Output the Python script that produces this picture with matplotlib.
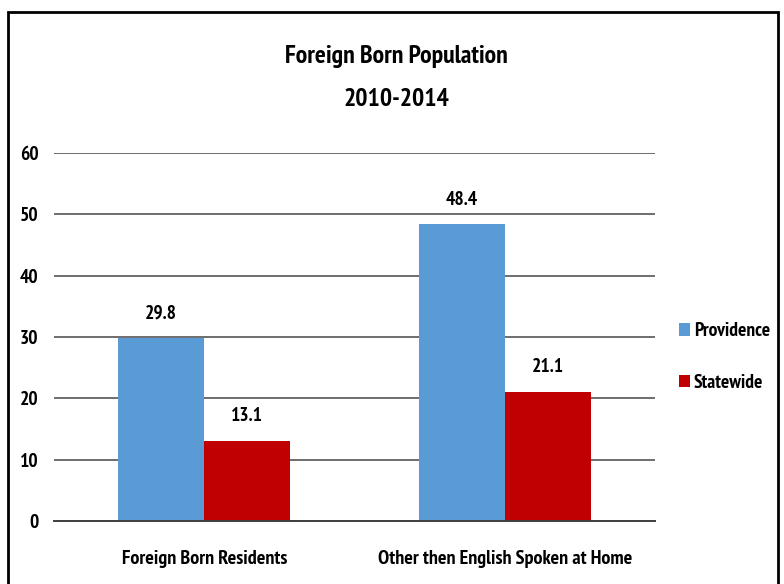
import matplotlib
matplotlib.use("Agg")
import matplotlib.pyplot as plt
from matplotlib.patches import Rectangle
import numpy as np

categories = ["Foreign Born Residents", "Other then English Spoken at Home"]
series_names = ["Providence", "Statewide"]
providence = [29.8, 48.4]
statewide = [13.1, 21.1]
yticks = [0, 10, 20, 30, 40, 50, 60]
title_lines = ["Foreign Born Population", "2010-2014"]

colors = ["#5B9BD5", "#C00000"]
plt.rcParams['font.family'] = ['PT Sans Narrow', 'DejaVu Sans']
plt.rcParams['font.weight'] = 'bold'

fig = plt.figure(figsize=(7.84, 5.84), dpi=100)
W, H = 784, 584
ax = fig.add_axes([54 / W, 1 - 521 / H, 601 / W, (521 - 153) / H])

x = np.arange(len(categories))
w = 0.286
b1 = ax.bar(x - w / 2, providence, w, color=colors[0], label=series_names[0], zorder=3)
b2 = ax.bar(x + w / 2, statewide, w, color=colors[1], label=series_names[1], zorder=3)
for bars, vals in ((b1, providence), (b2, statewide)):
    for r, v in zip(bars, vals):
        ax.annotate(f"{v:.1f}", (r.get_x() + r.get_width() / 2, v), xytext=(0, 11),
                    textcoords="offset points", ha="center", va="bottom",
                    fontsize=14, fontweight="bold")

ax.set_xlim(-0.5, 1.5)
ax.set_ylim(0, 60)
ax.set_yticks(yticks)
ax.set_yticklabels([str(t) for t in yticks], fontsize=14, fontweight="bold")
ax.set_xticks(x)
ax.set_xticklabels(categories, fontsize=14.5, fontweight="bold")
ax.tick_params(axis="both", length=0)
ax.tick_params(axis="y", pad=11)
ax.tick_params(axis="x", pad=21)
ax.yaxis.grid(True, color="#6E6E6E", linewidth=1.4, zorder=0)
for s in ["top", "right", "left"]:
    ax.spines[s].set_visible(False)
ax.spines["bottom"].set_color("#404040")
ax.spines["bottom"].set_linewidth(1.4)
ax.spines["bottom"].set_zorder(4)

fig.text(396 / W, 1 - 56 / H, title_lines[0], ha="center", va="center", fontsize=18.5, fontweight="bold")
fig.text(396 / W, 1 - 99 / H, title_lines[1], ha="center", va="center", fontsize=18.5, fontweight="bold")

leg = fig.legend(handles=[b1, b2], labels=series_names, loc="center left",
                 bbox_to_anchor=(661 / W, 1 - 357 / H), frameon=False,
                 fontsize=14, handlelength=0.6, handleheight=0.6, handletextpad=0.2,
                 labelspacing=1.7)

fig.patches.append(Rectangle((8 / W, -0.05), (778 - 8) / W, 1.05 - 12 / H,
                             transform=fig.transFigure, fill=False, edgecolor="black",
                             linewidth=2, clip_on=False))

fig.savefig("out.png", dpi=100, facecolor="white")
